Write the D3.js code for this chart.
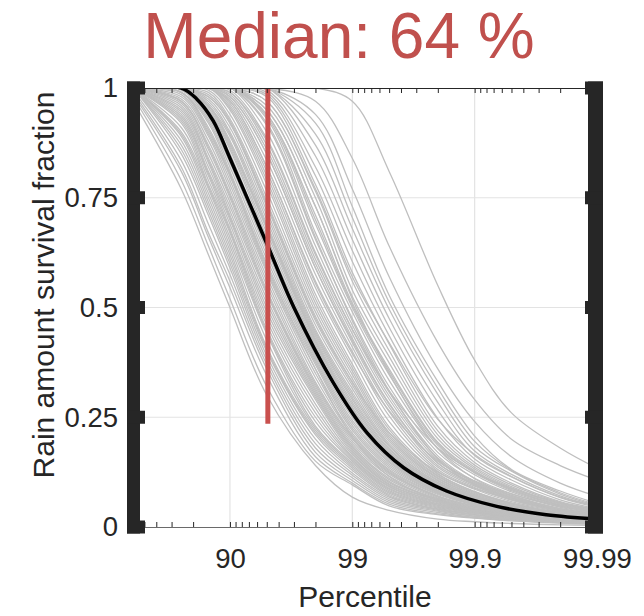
<!DOCTYPE html>
<html lang="en">
<head>
<meta charset="UTF-8">
<title>Rain amount survival fraction</title>
<script src="https://d3js.org/d3.v7.min.js"></script>
<style>
  body { margin: 0; background: #fff; }
  text { font-family: "Liberation Sans", Arial, Helvetica, sans-serif; }
</style>
</head>
<body>
<svg width="644" height="616"></svg>
<script>
// percentile grid shared by every gray curve
const percentiles = [38, 75, 85, 90, 95, 98, 99, 99.5, 99.8, 99.9, 99.95, 99.98, 99.99];

// survival fraction of each sample at the percentiles above
const grayCurves = [
  [0.97, 0.77, 0.62, 0.50, 0.30, 0.14, 0.068, 0.038, 0.018, 0.012, 0.008, 0.005, 0.004],
  [0.98, 0.79, 0.64, 0.52, 0.32, 0.15, 0.096, 0.048, 0.028, 0.020, 0.014, 0.009, 0.007],
  [0.985, 0.81, 0.66, 0.545, 0.345, 0.16, 0.100, 0.052, 0.030, 0.021, 0.015, 0.0095, 0.0075],
  [0.99, 0.82, 0.67, 0.56, 0.36, 0.17, 0.106, 0.056, 0.033, 0.022, 0.016, 0.010, 0.008],
  [0.995, 0.835, 0.69, 0.575, 0.37, 0.18, 0.112, 0.060, 0.036, 0.024, 0.017, 0.011, 0.0085],
  [1, 0.85, 0.71, 0.59, 0.38, 0.19, 0.118, 0.064, 0.038, 0.025, 0.018, 0.012, 0.009],
  [1, 0.86, 0.72, 0.60, 0.39, 0.20, 0.123, 0.068, 0.040, 0.027, 0.019, 0.012, 0.009],
  [1, 0.87, 0.73, 0.61, 0.40, 0.21, 0.129, 0.071, 0.041, 0.028, 0.019, 0.013, 0.010],
  [1, 0.88, 0.74, 0.62, 0.405, 0.215, 0.134, 0.074, 0.043, 0.029, 0.020, 0.013, 0.010],
  [1, 0.89, 0.75, 0.63, 0.41, 0.22, 0.138, 0.077, 0.045, 0.031, 0.021, 0.014, 0.011],
  [1, 0.895, 0.76, 0.64, 0.425, 0.225, 0.142, 0.080, 0.047, 0.032, 0.022, 0.014, 0.011],
  [1, 0.90, 0.77, 0.65, 0.44, 0.23, 0.146, 0.083, 0.049, 0.033, 0.022, 0.015, 0.011],
  [1, 0.91, 0.775, 0.66, 0.445, 0.24, 0.150, 0.086, 0.050, 0.034, 0.023, 0.015, 0.011],
  [1, 0.92, 0.78, 0.67, 0.45, 0.25, 0.153, 0.088, 0.052, 0.034, 0.024, 0.016, 0.011],
  [1, 0.925, 0.79, 0.675, 0.46, 0.26, 0.157, 0.091, 0.053, 0.035, 0.024, 0.016, 0.012],
  [1, 0.93, 0.80, 0.68, 0.47, 0.27, 0.160, 0.093, 0.055, 0.036, 0.025, 0.016, 0.013],
  [1, 0.935, 0.805, 0.69, 0.48, 0.28, 0.165, 0.096, 0.057, 0.037, 0.026, 0.017, 0.013],
  [1, 0.94, 0.81, 0.70, 0.49, 0.29, 0.169, 0.098, 0.058, 0.038, 0.027, 0.017, 0.013],
  [1, 0.945, 0.82, 0.705, 0.50, 0.295, 0.173, 0.101, 0.060, 0.039, 0.028, 0.018, 0.013],
  [1, 0.95, 0.83, 0.71, 0.51, 0.30, 0.177, 0.104, 0.061, 0.040, 0.028, 0.018, 0.013],
  [1, 0.955, 0.835, 0.72, 0.52, 0.305, 0.181, 0.108, 0.063, 0.041, 0.029, 0.019, 0.014],
  [1, 0.96, 0.84, 0.73, 0.53, 0.31, 0.185, 0.111, 0.064, 0.042, 0.030, 0.019, 0.014],
  [1, 0.965, 0.85, 0.74, 0.535, 0.315, 0.190, 0.116, 0.066, 0.044, 0.031, 0.019, 0.015],
  [1, 0.97, 0.86, 0.75, 0.54, 0.32, 0.195, 0.120, 0.068, 0.045, 0.031, 0.019, 0.015],
  [1, 0.97, 0.865, 0.755, 0.55, 0.325, 0.200, 0.123, 0.070, 0.047, 0.032, 0.020, 0.015],
  [1, 0.97, 0.87, 0.76, 0.56, 0.33, 0.204, 0.125, 0.071, 0.048, 0.033, 0.021, 0.015],
  [1, 0.975, 0.88, 0.77, 0.57, 0.34, 0.209, 0.128, 0.074, 0.050, 0.034, 0.021, 0.016],
  [1, 0.98, 0.89, 0.78, 0.58, 0.35, 0.214, 0.131, 0.076, 0.051, 0.035, 0.021, 0.016],
  [1, 0.985, 0.895, 0.79, 0.585, 0.36, 0.220, 0.135, 0.078, 0.052, 0.036, 0.022, 0.016],
  [1, 0.99, 0.905, 0.80, 0.595, 0.36, 0.205, 0.115, 0.060, 0.038, 0.026, 0.016, 0.011],
  [1, 0.99, 0.90, 0.80, 0.59, 0.37, 0.225, 0.139, 0.079, 0.052, 0.036, 0.022, 0.016],
  [1, 0.99, 0.91, 0.805, 0.60, 0.375, 0.231, 0.143, 0.081, 0.054, 0.037, 0.023, 0.017],
  [1, 0.99, 0.92, 0.81, 0.61, 0.38, 0.237, 0.147, 0.082, 0.055, 0.037, 0.023, 0.017],
  [1, 0.995, 0.925, 0.82, 0.62, 0.385, 0.243, 0.150, 0.084, 0.056, 0.038, 0.024, 0.017],
  [1, 1, 0.93, 0.83, 0.63, 0.39, 0.250, 0.154, 0.086, 0.057, 0.039, 0.024, 0.018],
  [1, 1, 0.935, 0.835, 0.635, 0.40, 0.256, 0.157, 0.088, 0.059, 0.040, 0.025, 0.018],
  [1, 1, 0.94, 0.84, 0.64, 0.41, 0.262, 0.160, 0.090, 0.060, 0.041, 0.025, 0.018],
  [1, 1, 0.945, 0.85, 0.65, 0.415, 0.268, 0.163, 0.092, 0.062, 0.042, 0.025, 0.019],
  [1, 1, 0.95, 0.86, 0.66, 0.42, 0.273, 0.166, 0.093, 0.063, 0.042, 0.025, 0.019],
  [1, 1, 0.955, 0.865, 0.67, 0.425, 0.279, 0.169, 0.095, 0.064, 0.043, 0.026, 0.019],
  [1, 1, 0.96, 0.875, 0.68, 0.425, 0.27, 0.155, 0.080, 0.050, 0.033, 0.020, 0.014],
  [1, 1, 0.96, 0.87, 0.68, 0.43, 0.284, 0.172, 0.096, 0.065, 0.043, 0.026, 0.019],
  [1, 1, 0.96, 0.88, 0.685, 0.435, 0.290, 0.176, 0.098, 0.066, 0.044, 0.027, 0.020],
  [1, 1, 0.96, 0.89, 0.69, 0.44, 0.295, 0.179, 0.099, 0.067, 0.044, 0.027, 0.020],
  [1, 1, 0.965, 0.895, 0.70, 0.445, 0.301, 0.183, 0.101, 0.068, 0.045, 0.028, 0.020],
  [1, 1, 0.97, 0.90, 0.71, 0.45, 0.307, 0.186, 0.102, 0.069, 0.046, 0.028, 0.020],
  [1, 1, 0.975, 0.91, 0.72, 0.46, 0.315, 0.190, 0.105, 0.070, 0.047, 0.029, 0.020],
  [1, 1, 0.98, 0.92, 0.73, 0.47, 0.323, 0.195, 0.107, 0.071, 0.048, 0.029, 0.020],
  [1, 1, 0.98, 0.92, 0.735, 0.475, 0.33, 0.215, 0.125, 0.088, 0.063, 0.041, 0.030],
  [1, 1, 0.985, 0.925, 0.74, 0.48, 0.330, 0.200, 0.110, 0.073, 0.049, 0.030, 0.021],
  [1, 1, 0.99, 0.93, 0.75, 0.49, 0.338, 0.205, 0.112, 0.074, 0.050, 0.030, 0.021],
  [1, 1, 0.995, 0.94, 0.765, 0.50, 0.347, 0.210, 0.115, 0.076, 0.052, 0.031, 0.022],
  [1, 1, 1, 0.95, 0.78, 0.51, 0.355, 0.215, 0.117, 0.078, 0.053, 0.032, 0.022],
  [1, 1, 1, 0.955, 0.79, 0.52, 0.363, 0.222, 0.120, 0.080, 0.054, 0.033, 0.023],
  [1, 1, 1, 0.96, 0.80, 0.53, 0.371, 0.228, 0.122, 0.081, 0.055, 0.033, 0.023],
  [1, 1, 1, 0.965, 0.81, 0.545, 0.385, 0.240, 0.127, 0.086, 0.058, 0.035, 0.024],
  [1, 1, 1, 0.97, 0.82, 0.555, 0.395, 0.265, 0.150, 0.105, 0.075, 0.048, 0.035],
  [1, 1, 1, 0.97, 0.82, 0.56, 0.40, 0.253, 0.131, 0.090, 0.061, 0.037, 0.025],
  [1, 1, 1, 0.975, 0.835, 0.575, 0.41, 0.263, 0.136, 0.093, 0.063, 0.038, 0.026],
  [1, 1, 1, 0.98, 0.85, 0.59, 0.42, 0.273, 0.140, 0.096, 0.065, 0.038, 0.026],
  [1, 1, 1, 0.98, 0.85, 0.59, 0.425, 0.28, 0.145, 0.097, 0.066, 0.039, 0.026],
  [1, 1, 1, 0.985, 0.86, 0.60, 0.43, 0.282, 0.146, 0.099, 0.067, 0.039, 0.027],
  [1, 1, 1, 0.99, 0.87, 0.61, 0.44, 0.291, 0.152, 0.101, 0.068, 0.040, 0.027],
  [1, 1, 1, 0.99, 0.88, 0.62, 0.45, 0.31, 0.18, 0.125, 0.088, 0.055, 0.040],
  [1, 1, 1, 0.995, 0.885, 0.625, 0.45, 0.299, 0.157, 0.103, 0.070, 0.041, 0.028],
  [1, 1, 1, 1, 0.90, 0.64, 0.46, 0.307, 0.162, 0.104, 0.072, 0.042, 0.028],
  [1, 1, 1, 1, 0.915, 0.655, 0.475, 0.320, 0.170, 0.111, 0.076, 0.045, 0.030],
  [1, 1, 1, 1, 0.92, 0.66, 0.47, 0.31, 0.155, 0.095, 0.062, 0.036, 0.024],
  [1, 1, 1, 1, 0.93, 0.67, 0.49, 0.334, 0.179, 0.119, 0.080, 0.047, 0.032],
  [1, 1, 1, 1, 0.935, 0.69, 0.50, 0.347, 0.186, 0.123, 0.083, 0.049, 0.033],
  [1, 1, 1, 1, 0.94, 0.70, 0.505, 0.355, 0.19, 0.125, 0.085, 0.050, 0.034],
  [1, 1, 1, 1, 0.94, 0.71, 0.51, 0.360, 0.193, 0.128, 0.086, 0.050, 0.035],
  [1, 1, 1, 1, 0.95, 0.73, 0.52, 0.35, 0.178, 0.110, 0.072, 0.041, 0.027],
  [1, 1, 1, 1, 0.95, 0.73, 0.525, 0.374, 0.201, 0.132, 0.089, 0.052, 0.036],
  [1, 1, 1, 1, 0.96, 0.75, 0.54, 0.388, 0.210, 0.136, 0.092, 0.054, 0.037],
  [1, 1, 1, 1, 0.97, 0.765, 0.56, 0.402, 0.219, 0.141, 0.096, 0.056, 0.038],
  [1, 1, 1, 1, 0.97, 0.77, 0.57, 0.42, 0.245, 0.165, 0.115, 0.068, 0.048],
  [1, 1, 1, 1, 0.98, 0.78, 0.58, 0.417, 0.229, 0.147, 0.100, 0.058, 0.040],
  [1, 1, 1, 1, 0.985, 0.80, 0.605, 0.436, 0.247, 0.155, 0.107, 0.062, 0.042],
  [1, 1, 1, 1, 0.99, 0.82, 0.63, 0.455, 0.266, 0.163, 0.114, 0.067, 0.045],
  [1, 1, 1, 1, 0.995, 0.845, 0.655, 0.475, 0.284, 0.173, 0.120, 0.071, 0.047],
  [1, 1, 1, 1, 1, 0.87, 0.68, 0.496, 0.302, 0.183, 0.127, 0.075, 0.049],
  [1, 1, 1, 1, 1, 0.895, 0.705, 0.512, 0.316, 0.195, 0.129, 0.078, 0.051],
  [1, 1, 1, 1, 1, 0.92, 0.73, 0.528, 0.331, 0.207, 0.131, 0.082, 0.054],
  [1, 1, 1, 1, 1, 0.94, 0.77, 0.57, 0.36, 0.24, 0.16, 0.10, 0.07],
  [1, 1, 1, 1, 1, 0.97, 0.84, 0.64, 0.42, 0.29, 0.20, 0.14, 0.107],
  [1, 1, 1, 1, 1, 1, 0.97, 0.81, 0.55, 0.38, 0.26, 0.18, 0.134]
];

// median curve, read on its own percentile grid
const medianPercentiles = [38, 75, 81.3, 86.3, 90, 95.1, 97, 98.56, 99.24, 99.62, 99.83, 99.934, 99.974, 99.99];
const medianCurve = [1, 1, 0.975, 0.925, 0.84, 0.64, 0.50, 0.33, 0.215, 0.135, 0.082, 0.047, 0.028, 0.018];

const medianPercentile = 95.1;
const medianBarRange = [0.235, 1];
const titleText = "Median: 64 %";

const xTickLabels = ["90", "99", "99.9", "99.99"];
const yTicks = [0, 0.25, 0.5, 0.75, 1];
const yTickLabels = ["0", "0.25", "0.5", "0.75", "1"];

const svg = d3.select("svg");
const plotLeft = 133, plotRight = 597, plotTop = 88, plotBottom = 527;
const axisColor = "#262626";

// x runs on a log scale of the exceedance (100 - percentile)
const x = d3.scaleLog().domain([62, 0.01]).range([plotLeft, plotRight]);
const y = d3.scaleLinear().domain([0, 1]).range([plotBottom, plotTop]);
const ex = p => 100 - p;

svg.append("clipPath").attr("id", "plot-area")
  .append("rect")
  .attr("x", plotLeft).attr("y", plotTop)
  .attr("width", plotRight - plotLeft).attr("height", plotBottom - plotTop);

// grid
const grid = svg.append("g").attr("stroke", "#e3e3e3").attr("stroke-width", 1.2);
grid.selectAll(".gx").data(xTickLabels.slice(0, 3)).enter().append("line")
  .attr("x1", d => x(ex(+d))).attr("x2", d => x(ex(+d)))
  .attr("y1", plotTop).attr("y2", plotBottom);
grid.selectAll(".gy").data(yTicks.slice(1, 4)).enter().append("line")
  .attr("x1", plotLeft).attr("x2", plotRight)
  .attr("y1", d => y(d)).attr("y2", d => y(d));

const lineOn = grid => d3.line()
  .x((d, i) => x(ex(grid[i])))
  .y(d => y(d))
  .curve(d3.curveCatmullRom.alpha(0.5));

const curves = svg.append("g").attr("clip-path", "url(#plot-area)");

curves.append("g").selectAll("path").data(grayCurves).enter().append("path")
  .attr("d", lineOn(percentiles))
  .attr("fill", "none")
  .attr("stroke", "#bfbfbf")
  .attr("stroke-width", 1.3);

curves.append("path")
  .attr("d", lineOn(medianPercentiles)(medianCurve))
  .attr("fill", "none")
  .attr("stroke", "#000")
  .attr("stroke-width", 3.5);

svg.append("line")
  .attr("x1", x(ex(medianPercentile))).attr("x2", x(ex(medianPercentile)))
  .attr("y1", y(medianBarRange[0])).attr("y2", y(medianBarRange[1]))
  .attr("stroke", "#c9504e")
  .attr("stroke-width", 5);

// top and bottom axes with log minor ticks
const xTicks = x.ticks();
svg.append("g")
  .attr("transform", `translate(0,${plotTop})`)
  .call(d3.axisTop(x).tickValues(xTicks).tickSize(-5).tickSizeOuter(0).tickFormat(""))
  .call(g => g.selectAll("path,line").attr("stroke", axisColor));
svg.append("g")
  .attr("transform", `translate(0,${plotBottom})`)
  .call(d3.axisBottom(x).tickValues(xTicks).tickSize(-5).tickSizeOuter(0).tickFormat(""))
  .call(g => g.select("path").attr("stroke", "#6a6a6a"))
  .call(g => g.selectAll("line").attr("stroke", axisColor));

// x tick labels
svg.append("g")
  .attr("transform", `translate(0,${plotBottom})`)
  .call(d3.axisBottom(x).tickValues(xTickLabels.map(d => ex(+d)))
    .tickFormat((d, i) => xTickLabels[i]).tickSize(0).tickPadding(21))
  .call(g => g.select(".domain").remove())
  .call(g => g.selectAll("text").attr("font-size", 27.5).attr("fill", axisColor)
    .attr("font-family", "Liberation Sans, Arial, sans-serif"));

// y tick labels
svg.append("g")
  .attr("transform", `translate(${plotLeft},0)`)
  .call(d3.axisLeft(y).tickValues(yTicks).tickFormat((d, i) => yTickLabels[i])
    .tickSize(0).tickPadding(15))
  .call(g => g.select(".domain").remove())
  .call(g => g.selectAll("text").attr("font-size", 27.5).attr("fill", axisColor)
    .attr("font-family", "Liberation Sans, Arial, sans-serif"));

// heavy side bars with block ticks
const bars = svg.append("g").attr("fill", axisColor);
bars.append("rect").attr("x", 127).attr("y", y(1) - 6.5).attr("width", 13).attr("height", y(0) - y(1) + 13);
bars.append("rect").attr("x", 588).attr("y", y(1) - 6.5).attr("width", 15).attr("height", y(0) - y(1) + 13);
bars.selectAll(".tl").data(yTicks).enter().append("rect")
  .attr("x", 127).attr("y", d => y(d) - 6.5).attr("width", 18).attr("height", 13);
bars.selectAll(".tr").data(yTicks).enter().append("rect")
  .attr("x", 585).attr("y", d => y(d) - 6.5).attr("width", 18).attr("height", 13);

// titles
svg.append("text")
  .attr("x", 339).attr("y", 58)
  .attr("text-anchor", "middle")
  .attr("font-size", 64)
  .attr("fill", "#c0504d")
  .text(titleText);

svg.append("text")
  .attr("x", 365).attr("y", 607)
  .attr("text-anchor", "middle")
  .attr("font-size", 30)
  .attr("fill", axisColor)
  .text("Percentile");

svg.append("text")
  .attr("transform", "translate(54,285) rotate(-90)")
  .attr("text-anchor", "middle")
  .attr("font-size", 30)
  .attr("fill", axisColor)
  .text("Rain amount survival fraction");
</script>
</body>
</html>
